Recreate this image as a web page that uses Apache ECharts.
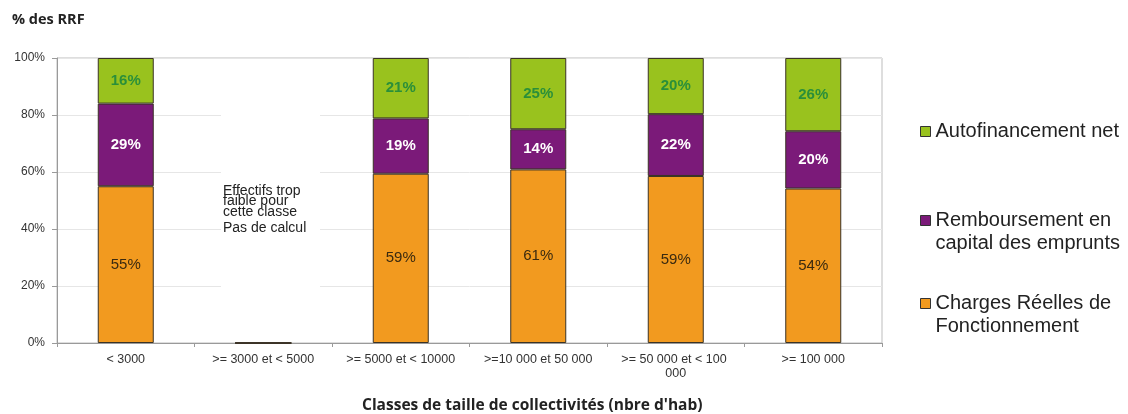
<!DOCTYPE html>
<html>
<head>
<meta charset="utf-8">
<script src="https://cdn.jsdelivr.net/npm/echarts@6/dist/echarts.min.js"></script>
<style>
	html, body { margin: 0; padding: 0; background: #fff; }
	#chart { width: 1128px; height: 414px; }
</style>
</head>
<body>
<div id="chart"></div>
<script>
	var categories = [
		'< 3000', '>= 3000 et < 5000', '>= 5000 et < 10000',
		'>=10 000 et 50 000', '>= 50 000 et < 100 000', '>= 100 000'
	];
	// parts in % (cat 2 : no calculation)
	var charges = [55.0, 0, 59.4, 60.9, 58.6, 54.2];
	var remboursement = [29.0, 0, 19.4, 14.1, 21.7, 20.1];
	var autofinancement = [16.0, 0, 21.2, 25.0, 19.7, 25.7];
	var yTicks = [0, 20, 40, 60, 80, 100];
	var seriesNames = ['Charges Réelles de\nFonctionnement', 'Remboursement en\ncapital des emprunts', 'Autofinancement net'];
	var colors = ['#f29a1f', '#7b1a79', '#99c21e'];
	var labelColors = ['#3a2a10', '#ffffff', '#2a8f3a'];

	var font = '"Liberation Sans", Arial, sans-serif';

	function pct(p) {
		return p.value ? Math.round(p.value) + '%' : '';
	}

	function makeSerie(idx, data) {
		return {
			name: seriesNames[idx],
			type: 'bar',
			stack: 'rrf',
			barWidth: 56,
			data: data,
			itemStyle: {
				color: colors[idx],
				borderColor: '#3b3326',
				borderWidth: 1
			},
			label: {
				show: true,
				position: 'inside',
				formatter: pct,
				color: labelColors[idx],
				fontFamily: font,
				fontSize: 15,
				fontWeight: idx == 0 ? 'normal' : 'bold'
			}
		};
	}

	// icon on the first line of the text : two-lines names get an empty line before
	function makeLegend(idx, top) {
		return {
			orient: 'vertical',
			left: 915,
			top: top,
			icon: 'rect',
			itemWidth: 10,
			itemHeight: 10,
			itemGap: 5,
			selectedMode: false,
			itemStyle: { borderColor: '#333', borderWidth: 1 },
			data: [seriesNames[idx]],
			formatter: function(name) {
				return name.indexOf('\n') >= 0 ? '\n' + name : name;
			},
			textStyle: {
				color: '#222',
				fontFamily: font,
				fontSize: 20,
				lineHeight: 23
			}
		};
	}

	var chart = echarts.init(document.getElementById('chart'));
	var option = {
		animation: false,
		title: [{
			text: '% des RRF',
			left: 7,
			top: 7,
			textStyle: { fontFamily: '"Open Sans", sans-serif', fontSize: 14.5, fontWeight: 'bold', color: '#222' }
		}, {
			text: 'Classes de taille de collectivités (nbre d\'hab)',
			left: 357,
			top: 393,
			textStyle: { fontFamily: '"Open Sans", sans-serif', fontSize: 15.5, fontWeight: 'bold', color: '#222' }
		}],
		legend: [
			makeLegend(2, 115),
			makeLegend(1, 181),
			makeLegend(0, 264)
		],
		grid: {
			left: 57,
			right: 246,
			top: 58,
			bottom: 71,
			show: true,
			borderColor: '#bdbdbd',
			borderWidth: 1
		},
		xAxis: {
			type: 'category',
			data: categories,
			axisLine: { lineStyle: { color: '#9a9a9a', width: 1 } },
			axisTick: { show: true, length: 4, lineStyle: { color: '#9a9a9a' } },
			axisLabel: {
				interval: 0,
				margin: 10,
				color: '#333',
				fontFamily: font,
				fontSize: 12.5,
				width: 120,
				overflow: 'break',
				lineHeight: 14
			}
		},
		yAxis: {
			type: 'value',
			min: yTicks[0],
			max: yTicks[yTicks.length - 1],
			interval: 20,
			axisLine: { show: true, lineStyle: { color: '#9a9a9a' } },
			axisTick: { show: true, length: 5, lineStyle: { color: '#9a9a9a' } },
			splitLine: { lineStyle: { color: '#e6e6e6', width: 1 } },
			axisLabel: {
				formatter: '{value}%',
				color: '#333',
				fontFamily: font,
				fontSize: 12,
				margin: 12
			}
		},
		graphic: [{
			type: 'rect',
			z: 50,
			shape: { x: 221, y: 110, width: 99, height: 180 },
			style: { fill: '#fff' }
		}, {
			type: 'text',
			z: 51,
			left: 223,
			top: 184,
			style: {
				text: 'Effectifs trop\nfaible pour\ncette classe',
				font: '14px "Liberation Sans", Arial, sans-serif',
				lineHeight: 10.5,
				fill: '#222'
			}
		}, {
			type: 'text',
			z: 51,
			left: 223,
			top: 221,
			style: {
				text: 'Pas de calcul',
				font: '14px "Liberation Sans", Arial, sans-serif',
				fill: '#222'
			}
		}],
		series: [
			makeSerie(0, charges),
			makeSerie(1, remboursement),
			makeSerie(2, autofinancement)
		]
	};
	chart.setOption(option);
</script>
</body>
</html>
